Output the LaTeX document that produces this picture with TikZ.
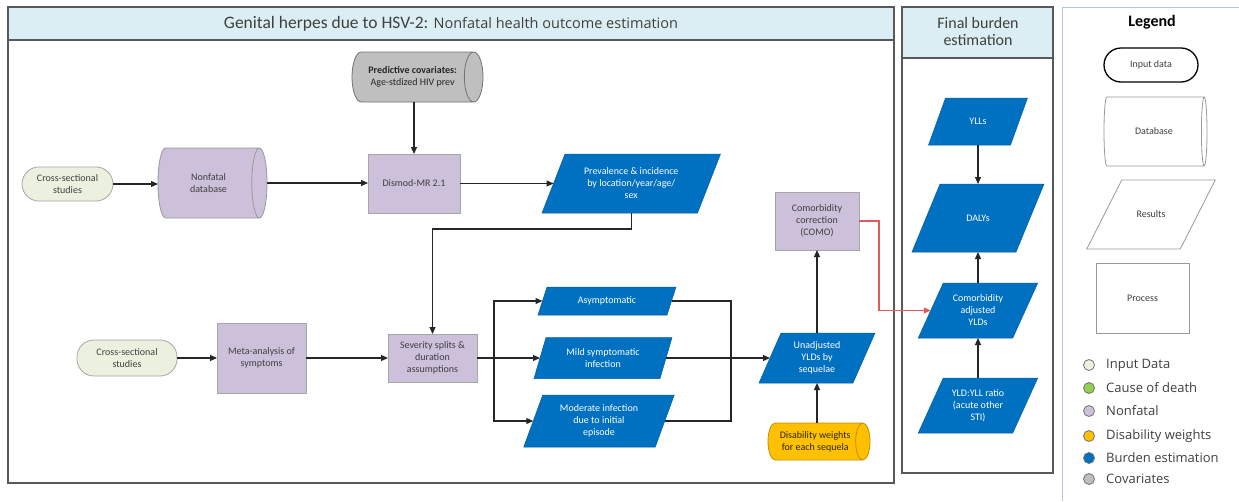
\documentclass[tikz,border=0pt]{standalone}
\usepackage{fontspec}
\setmainfont{Carlito}
\newfontfamily\osans{Open Sans}
\usetikzlibrary{shapes.geometric,arrows.meta,calc}
\definecolor{hdr}{HTML}{DAEEF3}
\definecolor{inputc}{HTML}{EBF1DE}
\definecolor{nonfatal}{HTML}{CCC0DA}
\definecolor{blueF}{HTML}{0070C0}
\definecolor{covg}{HTML}{BFBFBF}
\definecolor{dwc}{HTML}{FFC000}
\definecolor{codc}{HTML}{92D050}
\definecolor{txtc}{HTML}{404040}
\definecolor{redl}{HTML}{E05A5A}
\definecolor{legl}{HTML}{B4C4D8}
\definecolor{panelc}{HTML}{595959}
\tikzset{
  conn/.style={draw=black!85, line width=1.2pt, -{Triangle[length=7pt,width=6pt]}},
  plainline/.style={draw=black!85, line width=1.2pt},
  redconn/.style={draw=redl, line width=1.1pt, -{Triangle[length=7pt,width=6pt]}},
  panel/.style={draw=panelc, line width=1.6pt},
  txt/.style={font=\fontsize{10}{12}\selectfont, align=center, text=txtc, inner sep=0pt, outer sep=0pt},
  procbox/.style={txt, rectangle, draw=black!35, fill=nonfatal, line width=0.8pt},
  pill/.style={txt, rectangle, rounded corners=17pt, draw=black!35, fill=inputc, line width=0.8pt},
  db/.style={txt, cylinder, draw=black!40, line width=0.8pt},
  para/.style={fill=blueF, draw=blueF!85!black, line width=0.5pt},
  lpara/.style={fill=white, draw=black!40, line width=0.8pt},
  ptext/.style={txt, text=white, rectangle},
  lptext/.style={txt, rectangle},
  lcirc/.style={circle, draw=black!55, line width=0.8pt, minimum size=11pt, inner sep=0pt},
  ltext/.style={font=\osans\fontsize{13}{15}\selectfont, text=txtc, anchor=west, inner sep=0pt}
}
\newcommand\parabox[8]{%
  \path[#7] ({#2-#4/2-#6/2},{#3+#5/2}) -- ({#2-#4/2+#6/2},{#3-#5/2}) -- ({#2+#4/2+#6/2},{#3-#5/2}) -- ({#2+#4/2-#6/2},{#3+#5/2}) -- cycle;
  \node[#8, minimum width=#4pt, minimum height=#5pt] (#1) at (#2,#3)}
\begin{document}
\begin{tikzpicture}[x=1pt,y=-1pt]
\useasboundingbox (0,0) rectangle (1239,501);
\fill[white] (0,0) rectangle (1239,501);
% main panel
\fill[hdr] (8,7) rectangle (894,40);
\draw[panel] (8,7) rectangle (894,483);
\draw[panel] (8,40) -- (894,40);
\node[text=txtc, inner sep=0pt] (ttl) at (451,24) {\fontsize{17.5}{20}\selectfont Genital herpes due to HSV-2: {\osans\fontsize{14.5}{17}\selectfont Nonfatal health outcome estimation}};
% final panel
\fill[hdr] (902,7) rectangle (1053,58);
\draw[panel] (902,7) rectangle (1053,473);
\draw[panel] (902,58) -- (1053,58);
\node[text=txtc, align=center, font=\fontsize{16}{17}\selectfont, inner sep=0pt] (ftl) at (978,31.5) {Final burden\\estimation};
% legend frame
\draw[legl, line width=0.8pt] (1062,501) -- (1062,7) -- (1239,7);

% nodes, top row
\node[pill, minimum width=91pt, minimum height=34pt] (cs1) at (67.5,184) {Cross-sectional\\studies};
\node[db, fill=nonfatal, minimum height=109pt, minimum width=70pt, shape aspect=0.8, anchor=west] (ndb) at (158,183) {Nonfatal\\database};
\node[db, fill=covg, draw=black!55, minimum height=131pt, minimum width=50pt, shape aspect=0.9, anchor=west, text=black!85] (cov) at (352,77) {\textbf{Predictive covariates:}\\Age-stdized HIV prev};
\node[procbox, minimum width=92pt, minimum height=59pt] (dis) at (414,183.5) {Dismod-MR 2.1};
\parabox{prev}{631.25}{183.5}{155.5}{59}{23}{para}{ptext}{Prevalence \& incidence\\by location/year/age/\\sex};

% bottom row
\node[pill, minimum width=100pt, minimum height=36pt] (cs2) at (127,358) {Cross-sectional\\studies};
\node[procbox, minimum width=89pt, minimum height=70pt] (meta) at (261.5,358) {Meta-analysis of\\symptoms};
\node[procbox, minimum width=89pt, minimum height=48pt] (sev) at (432.5,358) {Severity splits \&\\duration\\assumptions};
\parabox{asym}{607}{301}{129}{28}{9}{para}{ptext}{Asymptomatic};
\parabox{mild}{603}{358}{126}{41}{12}{para}{ptext}{Mild symptomatic\\infection};
\parabox{mod}{599}{421}{131.5}{52}{19}{para}{ptext}{Moderate infection\\due to initial\\episode};
\parabox{unadj}{817}{358}{94}{50}{22}{para}{ptext}{Unadjusted\\YLDs by\\sequelae};
\node[procbox, minimum width=84pt, minimum height=58pt] (como) at (817,221) {Comorbidity\\correction\\(COMO)};
\node[db, fill=dwc, draw=dwc!75!black, minimum height=102pt, minimum width=37pt, shape aspect=0.7, anchor=west, text=black!85] (dw) at (768,441.5) {Disability weights\\for each sequela};

% final burden nodes
\parabox{yll}{978}{121.5}{82}{47}{17}{para}{ptext}{YLLs};
\parabox{daly}{978}{218}{104}{68}{28}{para}{ptext}{DALYs};
\parabox{cadj}{978}{310.5}{94.5}{55}{25}{para}{ptext}{Comorbidity\\adjusted\\YLDs};
\parabox{ratio}{978}{405.5}{94.5}{55}{25}{para}{ptext}{YLD:YLL ratio\\(acute other\\STI)};

% legend
\node[font=\bfseries\fontsize{16}{18}\selectfont, inner sep=0pt] (legt) at (1152,22) {Legend};
\node[txt, rectangle, rounded corners=17pt, draw=black, line width=1.3pt, minimum width=94pt, minimum height=34pt] (lin) at (1151,65) {Input data};
\node[db, fill=white, draw=black!40, minimum height=103pt, minimum width=69pt, shape aspect=0.8, anchor=west] (ldb) at (1104,131.5) {Database};
\parabox{lres}{1151}{214.5}{93.5}{69}{35}{lpara}{lptext}{Results};
\node[txt, rectangle, draw=black!40, line width=0.8pt, minimum width=93pt, minimum height=70pt] (lproc) at (1142.5,298) {Process};
\node[lcirc, fill=inputc] (c1) at (1089,365) {};
\node[lcirc, fill=codc] (c2) at (1089,388) {};
\node[lcirc, fill=nonfatal] (c3) at (1089,411) {};
\node[lcirc, fill=dwc] (c4) at (1089,436) {};
\node[lcirc, fill=blueF] (c5) at (1089,458) {};
\node[lcirc, fill=covg] (c6) at (1089,479) {};
\node[ltext] (t1) at (1106,365) {Input Data};
\node[ltext] (t2) at (1106,388) {Cause of death};
\node[ltext] (t3) at (1106,411) {Nonfatal};
\node[ltext] (t4) at (1106,436) {Disability weights};
\node[ltext] (t5) at (1106,458) {Burden estimation};
\node[ltext] (t6) at (1106,479) {Covariates};

% connectors
\draw[conn] (cs1.east) -- (cs1.east -| ndb.west);
\draw[conn] (ndb.east) -- (ndb.east -| dis.west);
\draw[conn] (cov.south -| dis.north) -- (dis.north);
\draw[conn] (dis.east) -- (dis.east -| prev.west);
\draw[conn] (prev.south) -- ++(0,16) -| (sev.north);
\draw[conn] (cs2.east) -- (meta.west);
\draw[conn] (meta.east) -- (sev.west);
\coordinate (br) at (494,358);
\coordinate (jr) at (731,358);
\draw[plainline] (sev.east) -- (br);
\draw[conn] (br) |- (asym.west);
\draw[conn] (br) -- (mild.west);
\draw[conn] (br) |- (mod.west);
\draw[plainline] (asym.east) -| (jr);
\draw[plainline] (mod.east) -| (jr);
\draw[conn] (mild.east) -- (unadj.west);
\draw[conn] (unadj.south |- dw.north) -- (unadj.south);
\draw[conn] (unadj.north) -- (como.south);
\draw[redconn] (como.east) -- ++(20,0) |- (cadj.west);
\draw[conn] (yll.south) -- (daly.north);
\draw[conn] (cadj.north) -- (daly.south);
\draw[conn] (ratio.north) -- (cadj.south);
\end{tikzpicture}
\end{document}
